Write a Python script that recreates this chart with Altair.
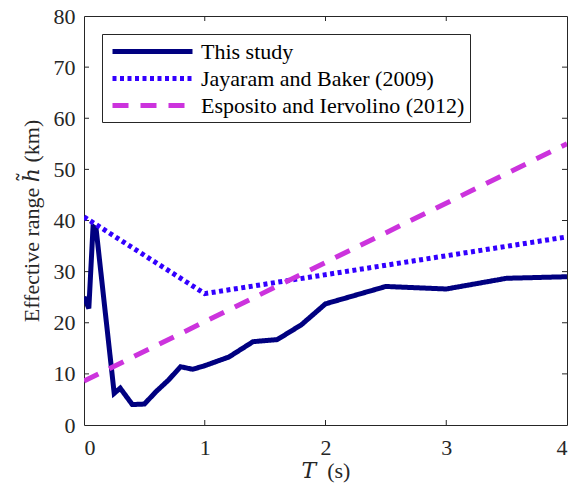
import altair as alt
import pandas as pd

# Effective range of spatial correlation versus period
series_names = ["This study", "Jayaram and Baker (2009)", "Esposito and Iervolino (2012)"]
series_colors = ["#000080", "#3300ff", "#cc33dd"]
series_dashes = [[1, 0], [4, 3.5], [16, 12]]

study_T = [0, 0.04, 0.075, 0.1, 0.25, 0.3, 0.4, 0.5, 0.6, 0.7, 0.8, 0.9, 1.0,
           1.2, 1.4, 1.6, 1.8, 2.0, 2.5, 3.0, 3.5, 4.0]
study_h = [25.1, 22.8, 38.8, 38.4, 6.2, 7.2, 4.0, 4.1, 6.6, 8.8, 11.4, 10.9, 11.6,
           13.3, 16.3, 16.7, 19.6, 23.7, 27.1, 26.6, 28.7, 29.0]

jb_T = [0, 1, 4]
jb_h = [40.7, 25.7, 36.8]

ei_T = [0, 4]
ei_h = [8.6, 55.0]

x_ticks = [0, 1, 2, 3, 4]
y_ticks = [0, 10, 20, 30, 40, 50, 60, 70, 80]

rows = []
for name, ts, hs in zip(series_names, [study_T, jb_T, ei_T], [study_h, jb_h, ei_h]):
    for i, (t, h) in enumerate(zip(ts, hs)):
        rows.append({"series": name, "T": t, "h": h, "order": i})
df = pd.DataFrame(rows)

FONT = "Liberation Serif"
TITLE_FONT = "Liberation Serif, DejaVu Serif"
INK = "#262626"
W, H = 483, 409

x_scale = alt.Scale(domain=[0, 4], nice=False, zero=False)
y_scale = alt.Scale(domain=[0, 80], nice=False, zero=False)

x_axis = alt.Axis(values=x_ticks, format="d", title="𝑇\u2002(s)", ticks=False, domain=False,
                  grid=False, labelPadding=12, titlePadding=2)
y_axis = alt.Axis(values=y_ticks, format="d", title="Effective range ℎ̃ (km)", ticks=False,
                  domain=False, grid=False, labelPadding=9, titlePadding=10)

# Legend line sample: an 80 px horizontal stroke placed left of the label
legend_kw = dict(title=None, orient="none", legendX=18, legendY=18,
                 fillColor="white", strokeColor=INK, padding=5,
                 symbolType="M-0.7,0H7.3", symbolSize=400, symbolStrokeWidth=5,
                 labelFont=FONT, labelFontSize=22, labelColor="black",
                 labelLimit=400, labelOffset=69, rowPadding=3)

lines = alt.Chart(df).mark_line(strokeWidth=5, clip=True).encode(
    x=alt.X("T:Q", scale=x_scale, axis=x_axis),
    y=alt.Y("h:Q", scale=y_scale, axis=y_axis),
    color=alt.Color("series:N", sort=series_names,
                    scale=alt.Scale(domain=series_names, range=series_colors),
                    legend=alt.Legend(**legend_kw)),
    strokeDash=alt.StrokeDash("series:N", sort=series_names,
                              scale=alt.Scale(domain=series_names, range=series_dashes),
                              legend=alt.Legend(**legend_kw)),
    order="order:Q",
)

# Inward tick marks on all four sides of the box
xt = pd.DataFrame({"T": x_ticks[1:-1]})
yt = pd.DataFrame({"h": y_ticks[1:-1]})
tick_len_x = 5 * 4 / W
tick_len_y = 5 * 80 / H

xb = alt.Chart(xt).transform_calculate(y0="0", y1=str(tick_len_y)).mark_rule(
    color=INK, strokeWidth=1).encode(x=alt.X("T:Q", scale=x_scale, axis=x_axis),
                                     y=alt.Y("y0:Q", scale=y_scale, axis=y_axis), y2="y1:Q")
xtp = alt.Chart(xt).transform_calculate(y0="80", y1=str(80 - tick_len_y)).mark_rule(
    color=INK, strokeWidth=1).encode(x=alt.X("T:Q", scale=x_scale, axis=x_axis),
                                     y=alt.Y("y0:Q", scale=y_scale, axis=y_axis), y2="y1:Q")
yl = alt.Chart(yt).transform_calculate(x0="0", x1=str(tick_len_x)).mark_rule(
    color=INK, strokeWidth=1).encode(y=alt.Y("h:Q", scale=y_scale, axis=y_axis),
                                     x=alt.X("x0:Q", scale=x_scale, axis=x_axis), x2="x1:Q")
yr = alt.Chart(yt).transform_calculate(x0="4", x1=str(4 - tick_len_x)).mark_rule(
    color=INK, strokeWidth=1).encode(y=alt.Y("h:Q", scale=y_scale, axis=y_axis),
                                     x=alt.X("x0:Q", scale=x_scale, axis=x_axis), x2="x1:Q")

chart = alt.layer(xb, xtp, yl, yr, lines).properties(
    width=W, height=H,
    background="white",
    autosize=alt.AutoSizeParams(type="none"),
    padding={"left": 84, "top": 16, "right": 1, "bottom": 68},
).configure_view(
    stroke=INK, strokeWidth=1
).configure_axis(
    labelFont=FONT, labelFontSize=22, labelColor=INK, titleFont=TITLE_FONT,
    titleFontSize=22, titleFontWeight="normal", titleColor=INK, labelAngle=0,
)

chart.save("out.html", embed_options={"renderer": "svg", "actions": False})
